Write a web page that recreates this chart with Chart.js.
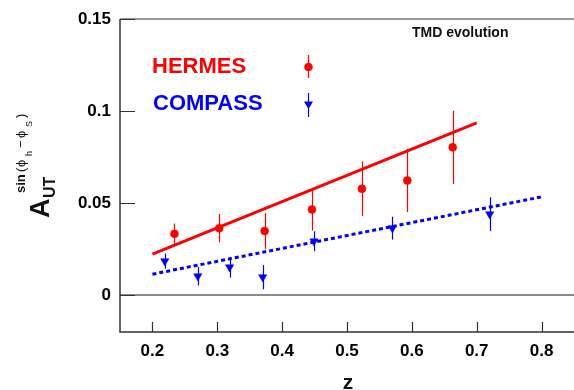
<!DOCTYPE html>
<html>
<head>
<meta charset="utf-8">
<script src="https://cdn.jsdelivr.net/npm/chart.js@4.4.1/dist/chart.umd.min.js"></script>
<style>
  html, body { margin: 0; padding: 0; background: #fff; }
  canvas { display: block; }
</style>
</head>
<body>
<canvas id="aut" width="574" height="390"></canvas>
<script>
// HERMES points: z, asymmetry, stat error
const hermesZ = [0.234, 0.303, 0.373, 0.446, 0.523, 0.593, 0.663]
const hermesA = [0.0333, 0.0364, 0.0348, 0.0466, 0.0578, 0.0623, 0.0803]
const hermesErr = [0.0056, 0.0077, 0.0097, 0.0115, 0.0148, 0.0172, 0.0199]

// COMPASS points
const compassZ = [0.219, 0.270, 0.319, 0.370, 0.449, 0.570, 0.720]
const compassA = [0.0185, 0.0103, 0.0152, 0.0098, 0.0293, 0.0364, 0.0440]
const compassErr = [0.0041, 0.0050, 0.0056, 0.0066, 0.0054, 0.0062, 0.0092]

// TMD evolution curves
const hermesCurveZ = [0.2, 0.7]
const hermesCurveA = [0.0223, 0.0936]
const compassCurveZ = [0.2, 0.8]
const compassCurveA = [0.0114, 0.0534]

const xTicks = [0.2, 0.3, 0.4, 0.5, 0.6, 0.7, 0.8]
const yTicks = [0, 0.05, 0.1, 0.15]

const RED = '#ff0000'
const BLUE = '#0000ff'
const FONT = '"Liberation Sans", Arial, Helvetica, sans-serif'

function toXY(xs, ys) {
  return xs.map((x, i) => ({ x: x, y: ys[i] }))
}

// vertical error bars, drawn under the markers
const errorBars = {
  id: 'errorBars',
  beforeDatasetsDraw(chart) {
    const ctx = chart.ctx
    const xs = chart.scales.x, ys = chart.scales.y
    const sets = [[hermesZ, hermesA, hermesErr, RED], [compassZ, compassA, compassErr, BLUE]]
    ctx.save()
    ctx.lineWidth = 1.2
    sets.forEach(([zz, aa, ee, col]) => {
      ctx.strokeStyle = col
      zz.forEach((z, i) => {
        const px = Math.round(xs.getPixelForValue(z)) + 0.5
        ctx.beginPath()
        ctx.moveTo(px, ys.getPixelForValue(aa[i] + ee[i]))
        ctx.lineTo(px, ys.getPixelForValue(aa[i] - ee[i]))
        ctx.stroke()
      })
    })
    ctx.restore()
  }
}

// frame, zero line, inward ticks, legend and axis titles
const frame = {
  id: 'frame',
  beforeDatasetsDraw(chart) {
    const ctx = chart.ctx
    const a = chart.chartArea
    const xs = chart.scales.x, ys = chart.scales.y
    ctx.save()
    // zero line
    const y0 = Math.round(ys.getPixelForValue(0))
    ctx.strokeStyle = '#8a8a8a'
    ctx.lineWidth = 2
    ctx.beginPath(); ctx.moveTo(a.left, y0); ctx.lineTo(a.right, y0); ctx.stroke()
    // top border
    ctx.strokeStyle = '#777'
    ctx.lineWidth = 1.5
    ctx.beginPath(); ctx.moveTo(a.left, a.top); ctx.lineTo(a.right, a.top); ctx.stroke()
    // left and bottom axes
    ctx.strokeStyle = '#333'
    ctx.lineWidth = 1.5
    ctx.beginPath()
    ctx.moveTo(a.left, a.top); ctx.lineTo(a.left, a.bottom); ctx.lineTo(a.right, a.bottom)
    ctx.stroke()
    ctx.lineWidth = 1.2
    ctx.beginPath()
    xs.ticks.forEach(t => {
      const px = Math.round(xs.getPixelForValue(t.value)) + 0.5
      ctx.moveTo(px, a.bottom); ctx.lineTo(px, a.bottom - 10)
    })
    ys.ticks.forEach(t => {
      const py = Math.round(ys.getPixelForValue(t.value)) + 0.5
      ctx.moveTo(a.left, py); ctx.lineTo(a.left + 15, py)
    })
    ctx.stroke()
    ctx.restore()
  },
  afterDraw(chart) {
    const ctx = chart.ctx
    ctx.save()
    ctx.textBaseline = 'alphabetic'
    ctx.textAlign = 'left'

    // legend
    ctx.font = 'bold 22px ' + FONT
    ctx.fillStyle = RED
    ctx.fillText('HERMES', 152, 73)
    ctx.fillStyle = BLUE
    ctx.fillText('COMPASS', 153, 110)

    ctx.lineWidth = 1.2
    ctx.strokeStyle = RED
    ctx.beginPath(); ctx.moveTo(308.5, 55); ctx.lineTo(308.5, 78); ctx.stroke()
    ctx.fillStyle = RED
    ctx.beginPath(); ctx.arc(308.5, 67, 4.3, 0, Math.PI * 2); ctx.fill()

    ctx.strokeStyle = BLUE
    ctx.beginPath(); ctx.moveTo(308.5, 93); ctx.lineTo(308.5, 117); ctx.stroke()
    ctx.fillStyle = BLUE
    ctx.beginPath()
    ctx.moveTo(304, 101.5); ctx.lineTo(313, 101.5); ctx.lineTo(308.5, 109)
    ctx.closePath(); ctx.fill()

    ctx.fillStyle = '#111'
    ctx.font = 'bold 14px ' + FONT
    ctx.fillText('TMD evolution', 412, 37)

    // x title
    ctx.textAlign = 'center'
    ctx.font = 'bold 21px ' + FONT
    ctx.fillText('z', 348, 389)

    // y title, rotated: A_UT^{sin(phi_h - phi_S)}
    ctx.translate(49, 218)
    ctx.rotate(-Math.PI / 2)
    ctx.textAlign = 'left'
    ctx.font = 'bold 27px ' + FONT
    ctx.fillText('A', 0, 0)
    ctx.font = 'bold 16px ' + FONT
    ctx.fillText('UT', 20, 6)
    ctx.font = 'bold 13px ' + FONT
    ctx.fillText('sin', 25, -24)
    ctx.font = '13px ' + FONT
    ctx.fillText('(', 46, -24)
    ctx.fillText('\u03d5', 51, -24)
    ctx.font = '9px ' + FONT
    ctx.fillText('h', 62, -17)
    ctx.font = '13px ' + FONT
    ctx.fillText('\u2212', 70, -24)
    ctx.fillText('\u03d5', 80, -24)
    ctx.font = '9px ' + FONT
    ctx.fillText('S', 91, -17)
    ctx.font = '13px ' + FONT
    ctx.fillText(')', 100, -24)
    ctx.restore()
  }
}

new Chart(document.getElementById('aut'), {
  type: 'scatter',
  data: {
    datasets: [
      {
        data: toXY(hermesCurveZ, hermesCurveA),
        showLine: true, borderColor: RED, borderWidth: 3,
        pointRadius: 0, fill: false
      },
      {
        data: toXY(compassCurveZ, compassCurveA),
        showLine: true, borderColor: BLUE, borderWidth: 3, borderDash: [4, 3],
        pointRadius: 0, fill: false
      },
      {
        data: toXY(hermesZ, hermesA),
        pointStyle: 'circle', pointRadius: 4, pointBorderWidth: 0.5,
        backgroundColor: RED, borderColor: RED
      },
      {
        data: toXY(compassZ, compassA),
        pointStyle: 'triangle', rotation: 180, pointRadius: 4.8, pointBorderWidth: 0.5,
        backgroundColor: BLUE, borderColor: BLUE
      }
    ]
  },
  options: {
    responsive: false,
    animation: false,
    layout: { autoPadding: false, padding: { left: 0, top: 19, right: 0, bottom: 0 } },
    plugins: { legend: { display: false }, tooltip: { enabled: false } },
    scales: {
      x: {
        type: 'linear', min: 0.15, max: 0.85,
        afterBuildTicks: s => { s.ticks = xTicks.map(v => ({ value: v })) },
        afterFit: s => { s.height = 58; s.paddingLeft = 0; s.paddingRight = 0 },
        grid: { display: false, drawTicks: false },
        border: { display: false },
        ticks: {
          padding: 9, color: '#000', maxRotation: 0, autoSkip: false,
          font: { family: FONT, size: 17, weight: 'bold' },
          callback: v => String(v)
        }
      },
      y: {
        type: 'linear', min: -0.02, max: 0.15,
        afterBuildTicks: s => { s.ticks = yTicks.map(v => ({ value: v })) },
        afterFit: s => { s.width = 120; s.paddingTop = 0; s.paddingBottom = 0 },
        grid: { display: false, drawTicks: false },
        border: { display: false },
        ticks: {
          padding: 9, color: '#000', autoSkip: false,
          font: { family: FONT, size: 17, weight: 'bold' },
          callback: v => String(v)
        }
      }
    }
  },
  plugins: [errorBars, frame]
})
</script>
</body>
</html>
